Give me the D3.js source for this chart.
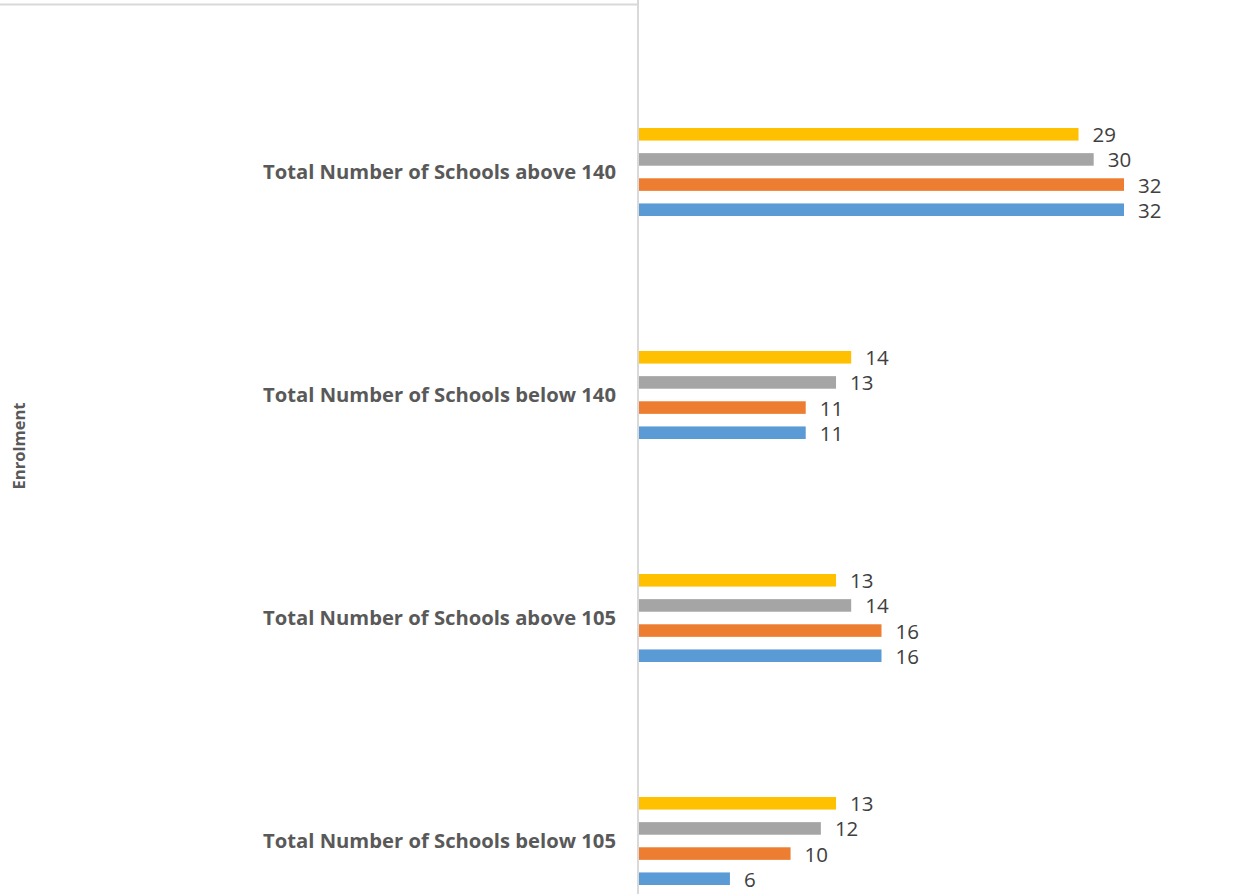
<!DOCTYPE html>
<html>
<head>
<meta charset="utf-8">
<script src="https://cdn.jsdelivr.net/npm/d3@7"></script>
<style>
  html, body { margin: 0; padding: 0; background: #fff; }
  svg { display: block; }
</style>
</head>
<body>
<svg id="chart" width="1250" height="894"></svg>
<script>
// ---- data ----
const categories = [
  "Total Number of Schools above 140",
  "Total Number of Schools below 140",
  "Total Number of Schools above 105",
  "Total Number of Schools below 105"
];
// series listed top-to-bottom within each group
const seriesNames = ["Series 4", "Series 3", "Series 2", "Series 1"];
const seriesColors = ["#FFC000", "#A5A5A5", "#ED7D31", "#5B9BD5"];
const series4 = [29, 14, 13, 13];
const series3 = [30, 13, 14, 12];
const series2 = [32, 11, 16, 10];
const series1 = [32, 11, 16, 6];
const seriesValues = [series4, series3, series2, series1];
const axisTitle = "Enrolment";

// ---- layout ----
const svg = d3.select("#chart");
const x0 = 639;
const x = d3.scaleLinear().domain([0, 32]).range([x0, 1124]);
const y = d3.scaleBand().domain(categories).range([60.5, 952.5]).paddingInner(0).paddingOuter(0);
const yInner = d3.scaleBand().domain(seriesNames).range([-44, 44]).paddingInner(0.5).paddingOuter(0);

// top border line
svg.append("line")
  .attr("x1", 0).attr("x2", 637).attr("y1", 4.5).attr("y2", 4.5)
  .attr("stroke", "#d9d9d9").attr("stroke-width", 2);

// groups
const groups = svg.selectAll("g.cat").data(categories).join("g")
  .attr("class", "cat")
  .attr("transform", d => `translate(0,${y(d) + y.bandwidth() / 2})`);

seriesNames.forEach((s, si) => {
  groups.append("rect")
    .attr("x", x(0))
    .attr("y", yInner(s))
    .attr("width", (d, i) => x(seriesValues[si][i]) - x(0))
    .attr("height", yInner.bandwidth())
    .attr("fill", seriesColors[si]);
  groups.append("text")
    .attr("x", (d, i) => x(seriesValues[si][i]) + 14)
    .attr("y", yInner(s) + yInner.bandwidth() / 2 + 8)
    .attr("font-family", "'Open Sans', 'Liberation Sans', Arial, sans-serif")
    .attr("font-size", 20.5)
    .attr("fill", "#404040")
    .text((d, i) => seriesValues[si][i]);
});

// category labels
groups.append("text")
  .attr("x", 616)
  .attr("y", 0)
  .attr("dy", "0.35em")
  .attr("text-anchor", "end")
  .attr("font-family", "'Open Sans', 'Liberation Sans', Arial, sans-serif")
  .attr("font-weight", "bold")
  .attr("font-size", 19)
  .attr("fill", "#595959")
  .attr("textLength", 353)
  .attr("lengthAdjust", "spacingAndGlyphs")
  .text(d => d);

// axis line
svg.append("line")
  .attr("x1", 638).attr("x2", 638).attr("y1", 0).attr("y2", 894)
  .attr("stroke", "#d9d9d9").attr("stroke-width", 2);

// axis title
svg.append("text")
  .attr("transform", "translate(19,446) rotate(-90)")
  .attr("text-anchor", "middle")
  .attr("dy", "0.35em")
  .attr("font-family", "'Open Sans', 'Liberation Sans', Arial, sans-serif")
  .attr("font-weight", "bold")
  .attr("font-size", 16)
  .attr("fill", "#595959")
  .attr("textLength", 87)
  .attr("lengthAdjust", "spacingAndGlyphs")
  .text(axisTitle);
</script>
</body>
</html>
